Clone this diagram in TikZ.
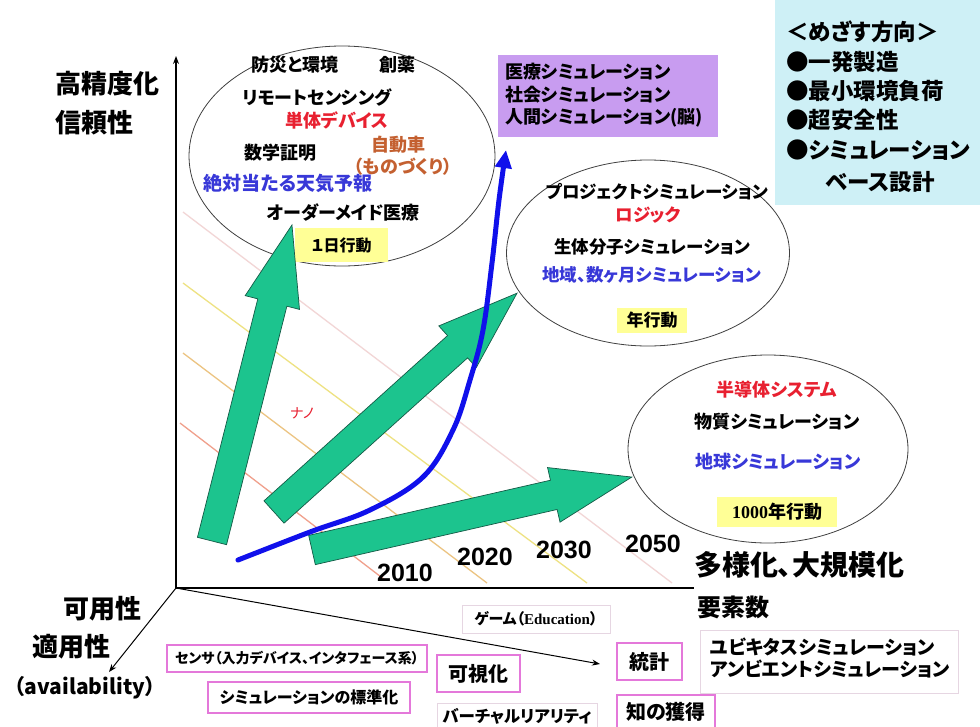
\documentclass[tikz,border=0pt]{standalone}
\usepackage{fontspec}
\setmainfont{Liberation Serif}
\newfontfamily\jp[RawFeature=+palt]{Noto Sans CJK JP}
\newfontfamily\lsans{Liberation Sans}
\usetikzlibrary{arrows.meta,shapes.geometric}
\newcommand\fsz[1]{\fontsize{#1}{#1}\selectfont}

\definecolor{garrfill}{RGB}{28,196,142}
\definecolor{garrline}{RGB}{20,90,70}
\definecolor{cred}{RGB}{232,32,48}
\definecolor{cbrown}{RGB}{196,96,48}
\definecolor{cblue}{RGB}{56,56,216}
\definecolor{cyellow}{RGB}{255,255,150}
\definecolor{cpurple}{RGB}{200,156,240}
\definecolor{ccyan}{RGB}{206,240,246}
\definecolor{cmag}{RGB}{228,120,218}
\definecolor{cfaint}{RGB}{230,214,226}
\definecolor{cbluecurve}{RGB}{16,16,235}
\definecolor{gl1}{RGB}{240,160,140}
\definecolor{gl2}{RGB}{236,196,130}
\definecolor{gl3}{RGB}{238,226,130}
\definecolor{gl4}{RGB}{242,214,214}

\tikzset{
 jt/.style={font=\jp\bfseries, inner sep=0pt},
 ell/.style={ellipse, draw=black!75, line width=0.8pt, fill=white, inner sep=0pt},
 ybox/.style={fill=cyellow, inner sep=0pt},
 mbox/.style={draw=cmag, line width=1.4pt, fill=white, inner sep=0pt},
 fbox/.style={draw=cfaint, line width=1pt, fill=white, inner sep=0pt},
 garr/.style={fill=garrfill, draw=garrline, line width=0.7pt, line join=miter},
 axisline/.style={line width=1.3pt, -{Stealth[length=8pt,width=6pt]}},
 gridline/.style={line width=1.3pt},
 yearlbl/.style={font=\lsans\bfseries\fsz{25}, inner sep=0pt},
}

\newcommand\garrow[3]{\begin{scope}[shift={#1},rotate=#2]
 \draw[garr] (0,-15) -- ({#3-80},-15) -- ({#3-80},-28) -- (#3,0) -- ({#3-80},28) -- ({#3-80},15) -- (0,15) -- cycle;
\end{scope}}

\begin{document}
\begin{tikzpicture}[x=1pt,y=-1pt]
\useasboundingbox (0,0) rectangle (980,726);
\fill[white] (0,0) rectangle (980,726);

% faint diagonal lines
\draw[gridline, gl1] (180,423) -- (385,580);
\draw[gridline, gl2] (183,353) -- (487,583);
\draw[gridline, gl3] (183,283) -- (587,583);
\draw[gridline, gl4] (183,212) -- (672,583);

% goal box
\node[fill=ccyan, minimum width=205, minimum height=205, anchor=north west, inner sep=0pt] (goalbox) at (775,0) {};

% purple box
\node[fill=cpurple, minimum width=220, minimum height=82, anchor=north west, inner sep=0pt] (pbox) at (498,55) {};

% ellipses
\node[ell, minimum width=306, minimum height=220] (e1) at (342,156) {};
\node[ell, minimum width=283, minimum height=186] (e2) at (648,253) {};
\node[ell, minimum width=280, minimum height=188] (e3) at (768,449) {};

% yellow boxes
\node[ybox, jt, minimum width=93, minimum height=34] (d1) at (341.5,245) {\fsz{16}１日行動};
\node[ybox, jt, minimum width=70, minimum height=25] (d2) at (652,320.5) {\fsz{17}年行動};
\node[ybox, jt, minimum width=120, minimum height=30] (d3) at (777,512) {\fsz{18}{\rmfamily\bfseries 1000}年行動};

% axes
\coordinate (O) at (176,588);
\coordinate (ytop) at (176,56);
\coordinate (xend) at (694,588);
\coordinate (zend) at (109,672);
\coordinate (wend) at (600,664);
\draw[axisline] (O) -- (ytop);
\draw[line width=1.3pt] (O) -- (xend);
\draw[axisline, line width=1pt] (O) -- (zend);
\draw[axisline, line width=1pt] (O) -- (wend);

% green arrows
\garrow{(212,541)}{75.8}{326}
\garrow{(274,512)}{42.0}{327}
\garrow{(312,550)}{12.85}{328}

% blue curve
\draw[cbluecurve, line width=5pt, line cap=round, -{Triangle[length=18pt,width=16pt]}]
  plot[smooth, tension=0.6] coordinates {(238,560) (310,532) (370,510) (423,477) (453,430) (470,380) (483,330) (492,263) (499,200) (506,150)};

% ellipse 1 texts
\node[jt] (t11) at (295,65) {\fsz{18}防災と環境};
\node[jt] (t12) at (397,65) {\fsz{18}創薬};
\node[jt] (t13) at (317,97) {\fsz{18}リモートセンシング};
\node[jt, text=cred] (t14) at (337,120) {\fsz{18}単体デバイス};
\node[jt] (t15) at (280,153) {\fsz{18}数学証明};
\node[jt, text=cbrown] (t16) at (398,145) {\fsz{18}自動車};
\node[jt, text=cbrown] (t17) at (403,167) {\fsz{18}（ものづくり）};
\node[jt, text=cblue] (t18) at (288,183) {\fsz{19}絶対当たる天気予報};
\node[jt] (t19) at (343,213) {\fsz{18}オーダーメイド医療};

% purple box texts
\node[jt, anchor=west] (p1) at (505,72) {\fsz{18}医療シミュレーション};
\node[jt, anchor=west] (p2) at (505,95) {\fsz{18}社会シミュレーション};
\node[jt, anchor=west] (p3) at (505,118) {\fsz{18}人間シミュレーション(脳)};

% ellipse 2 texts
\node[jt] (t21) at (657,192) {\fsz{17.5}プロジェクトシミュレーション};
\node[jt, text=cred] (t22) at (648,215) {\fsz{17.5}ロジック};
\node[jt] (t23) at (652,247) {\fsz{17.5}生体分子シミュレーション};
\node[jt, text=cblue] (t24) at (652,275) {\fsz{17.5}地域、数ヶ月シミュレーション};

% ellipse 3 texts
\node[jt, text=cred] (t31) at (777,390) {\fsz{18}半導体システム};
\node[jt] (t32) at (777,422) {\fsz{18}物質シミュレーション};
\node[jt, text=cblue] (t33) at (778,462) {\fsz{18}地球シミュレーション};

% goal texts
\node[jt, anchor=west] (g1) at (786,32) {\fsz{22.5}＜めざす方向＞};
\node[jt, anchor=west] (g2) at (786,62) {\fsz{22.5}●一発製造};
\node[jt, anchor=west] (g3) at (786,91) {\fsz{22.5}●最小環境負荷};
\node[jt, anchor=west] (g4) at (786,120) {\fsz{22.5}●超安全性};
\node[jt, anchor=west] (g5) at (786,150) {\fsz{22.5}●シミュレーション};
\node[jt] (g6) at (880,182) {\fsz{22.5}ベース設計};

% axis labels
\node[jt, anchor=west] (a1) at (55,84) {\fsz{26}高精度化};
\node[jt, anchor=west] (a2) at (55,123) {\fsz{26}信頼性};
\node[jt] (a3) at (102,609) {\fsz{26}可用性};
\node[jt] (a4) at (71,647) {\fsz{26}適用性};
\node[jt] (a5) at (85,688) {\fsz{21}（availability）};
\node[jt] (a6) at (799,565) {\fsz{28}多様化、大規模化};
\node[jt] (a7) at (733,607) {\fsz{24}要素数};

% years
\node[yearlbl] (y1) at (405,573) {2010};
\node[yearlbl] (y2) at (485,557) {2020};
\node[yearlbl] (y3) at (564,550) {2030};
\node[yearlbl] (y4) at (653,544) {2050};

\node[font=\jp\fsz{14}, text=cred, inner sep=0pt] (nano) at (302,413) {ナノ};

% bottom boxes
\node[fbox, jt, minimum width=148, minimum height=28] (b1) at (536,619) {\fsz{15}ゲーム（{\rmfamily\bfseries Education}）};
\node[mbox, jt, minimum width=260, minimum height=27] (b2) at (297,658.5) {\fsz{14}センサ（入力デバイス、インタフェース系）};
\node[mbox, jt, minimum width=83, minimum height=37] (b3) at (478.5,673.5) {\fsz{20}可視化};
\node[mbox, jt, minimum width=202, minimum height=31] (b4) at (309,697.5) {\fsz{16}シミュレーションの標準化};
\node[fbox, jt, minimum width=160, minimum height=26] (b5) at (517,716) {\fsz{16.5}バーチャルリアリティ};
\node[mbox, jt, minimum width=65, minimum height=37] (b6) at (649.5,661.5) {\fsz{20}統計};
\node[fbox, minimum width=258, minimum height=63, inner sep=0pt] (b7) at (829,661.5) {};
\node[jt, anchor=west] (b7a) at (710,647) {\fsz{19}ユビキタスシミュレーション};
\node[jt, anchor=west] (b7b) at (710,669) {\fsz{19}アンビエントシミュレーション};
\node[mbox, jt, minimum width=98, minimum height=34] (b8) at (666,712) {\fsz{20}知の獲得};
\end{tikzpicture}
\end{document}
